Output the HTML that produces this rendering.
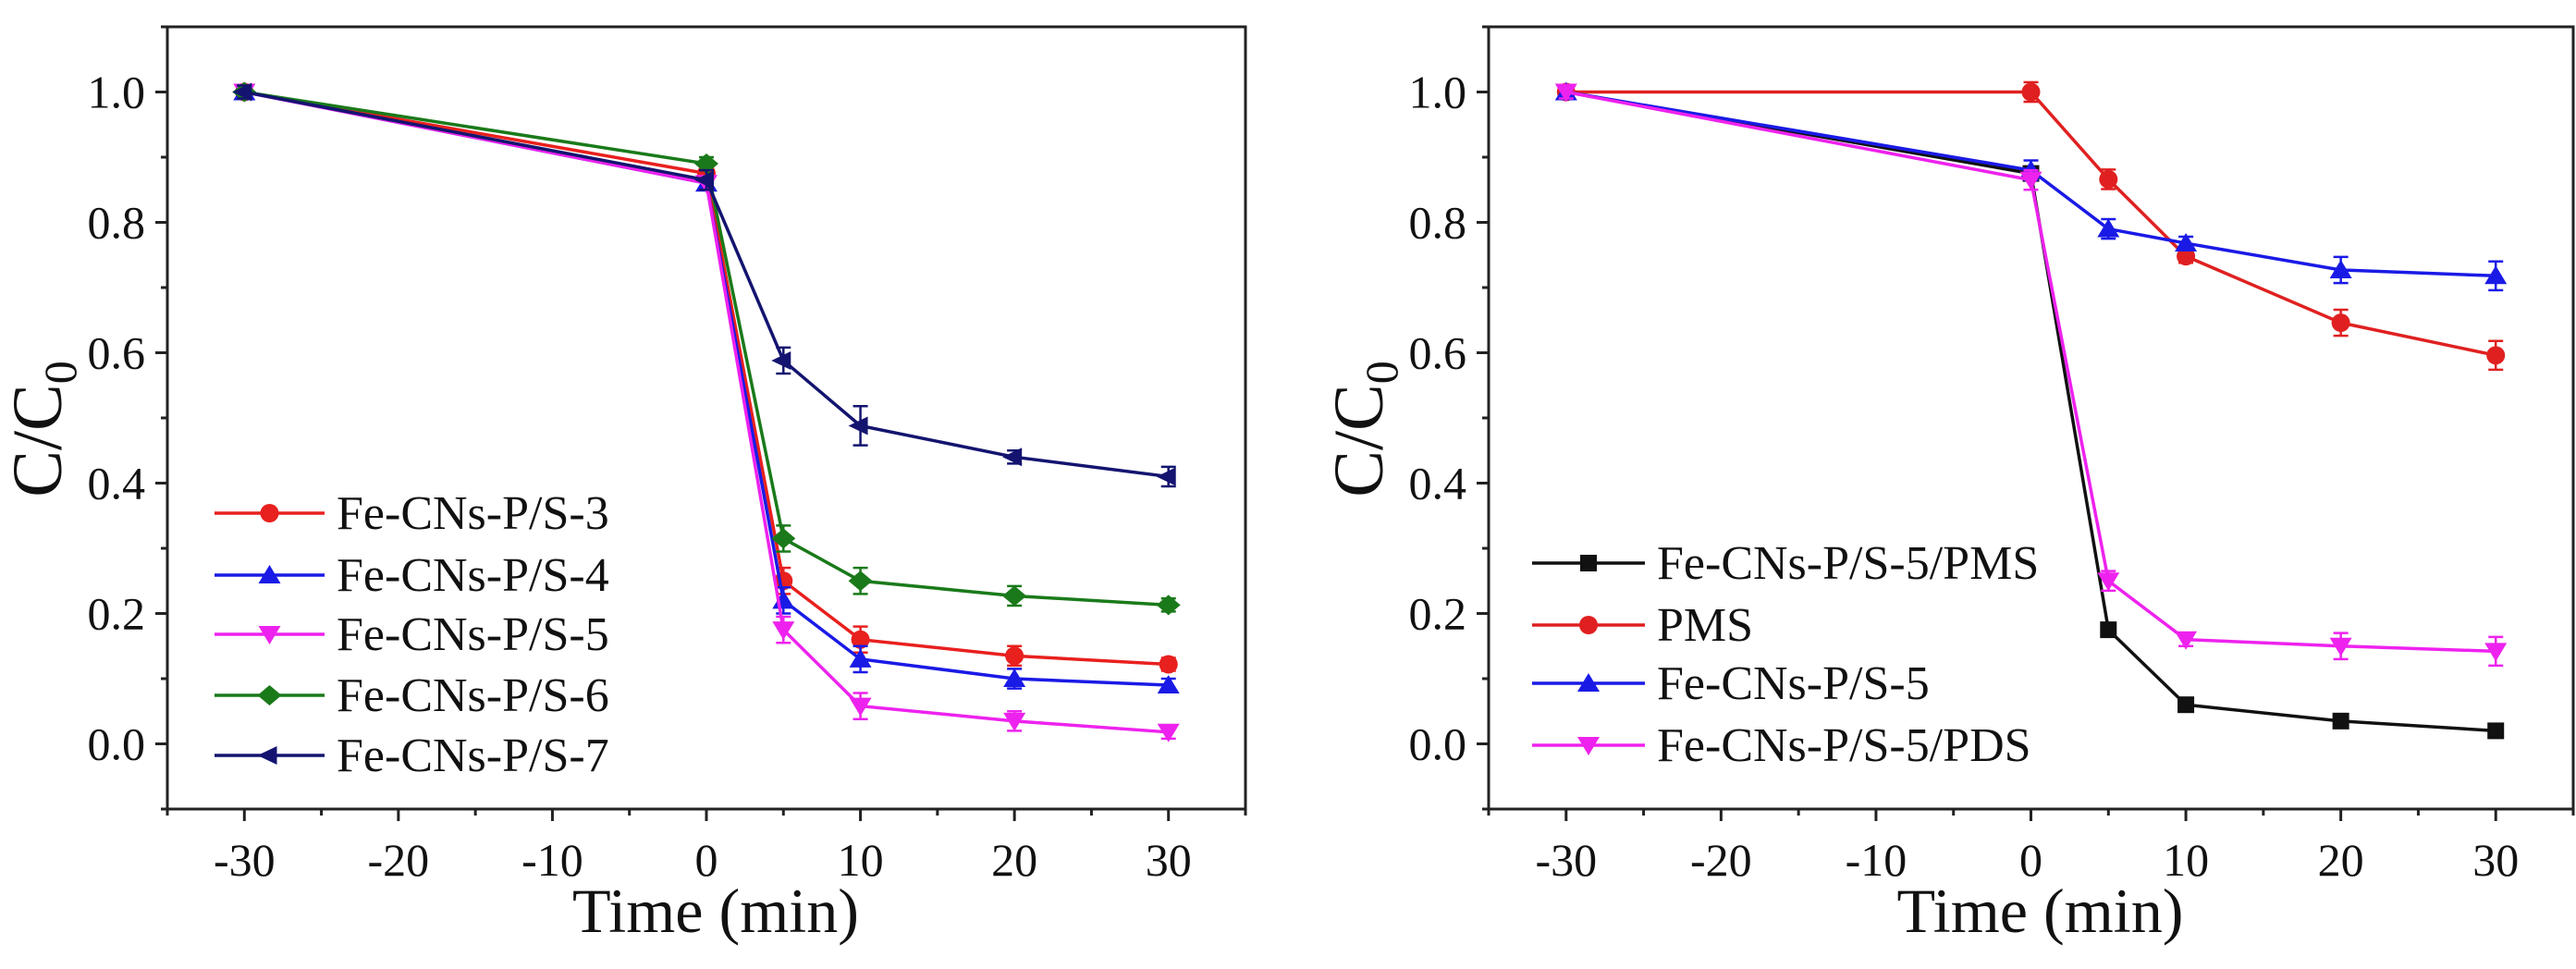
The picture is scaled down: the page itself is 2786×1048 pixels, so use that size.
<!DOCTYPE html>
<html><head><meta charset="utf-8"><style>
html,body{margin:0;padding:0;background:#fff;overflow:hidden;}
svg{display:block;font-family:"Liberation Serif",serif;}
</style></head><body>
<svg id="fig" width="2786" height="1048" viewBox="0 0 2786 1048" xmlns="http://www.w3.org/2000/svg"></svg>
<script>
const xValues = [-30, 0, 5, 10, 20, 30];
const xTicks = [-30, -20, -10, 0, 10, 20, 30];
const yTicks = [0.0, 0.2, 0.4, 0.6, 0.8, 1.0];
const leftNames = ["Fe-CNs-P/S-3","Fe-CNs-P/S-4","Fe-CNs-P/S-5","Fe-CNs-P/S-6","Fe-CNs-P/S-7"];
const leftS3 = [1.0, 0.875, 0.25, 0.16, 0.135, 0.122];
const leftS4 = [1.0, 0.86, 0.22, 0.13, 0.10, 0.09];
const leftS5 = [1.0, 0.86, 0.175, 0.058, 0.035, 0.018];
const leftS6 = [1.0, 0.89, 0.315, 0.25, 0.227, 0.213];
const leftS7 = [1.0, 0.865, 0.588, 0.488, 0.44, 0.41];
const leftErr7 = [0.01, 0.015, 0.02, 0.03, 0.01, 0.015];
const leftErrOther = [0.01, 0.01, 0.02, 0.02, 0.015, 0.01];
const rightNames = ["Fe-CNs-P/S-5/PMS","PMS","Fe-CNs-P/S-5","Fe-CNs-P/S-5/PDS"];
const rightPMScat = [1.0, 0.875, 0.175, 0.06, 0.035, 0.02];
const rightPMS = [1.0, 1.0, 0.866, 0.748, 0.646, 0.596];
const rightS5 = [1.0, 0.88, 0.79, 0.768, 0.727, 0.718];
const rightPDS = [1.0, 0.865, 0.25, 0.16, 0.15, 0.142];
const rightErr = [0.01, 0.015, 0.015, 0.01, 0.02, 0.022];

const NS="http://www.w3.org/2000/svg";
const svg=document.getElementById('fig');
function mk(tag,attrs,parent){const e=document.createElementNS(NS,tag);for(const k in attrs)e.setAttribute(k,attrs[k]);(parent||svg).appendChild(e);return e;}

function marker(g,shape,cx,cy,color){
  const s=10;let m;
  if(shape==='circle')m=mk('circle',{cx:cx,cy:cy,r:s},g);
  else if(shape==='square')m=mk('rect',{x:cx-s+1,y:cy-s+1,width:2*s-2,height:2*s-2},g);
  else if(shape==='up')m=mk('polygon',{points:`${cx},${cy-s-1} ${cx-s-2},${cy+s-1} ${cx+s+2},${cy+s-1}`},g);
  else if(shape==='down')m=mk('polygon',{points:`${cx},${cy+s+1} ${cx-s-2},${cy-s+1} ${cx+s+2},${cy-s+1}`},g);
  else if(shape==='diamond')m=mk('polygon',{points:`${cx},${cy-s-1} ${cx+s+3},${cy} ${cx},${cy+s+1} ${cx-s-3},${cy}`},g);
  else if(shape==='left')m=mk('polygon',{points:`${cx-s-3},${cy} ${cx+s-2},${cy-s} ${cx+s-2},${cy+s}`},g);
  m.setAttribute('fill',color);
  
  
}

function panel(p){
  const {L,R,T,B,id}=p;
  const g=mk('g',{});
  
  
  const xs=v=>L+(v+35)/70*(R-L);
  const ys=v=>B-(v+0.1)/1.2*(B-T);
  const frame=mk('rect',{x:L,y:T,width:R-L,height:B-T,fill:'none',stroke:'#222','stroke-width':3},g);
  
  
  for(let v=-35;v<=35;v+=5){
    const major=xTicks.includes(v);
    mk('line',{x1:xs(v),x2:xs(v),y1:B,y2:B+(major?13:7),stroke:'#222','stroke-width':3},g);
  }
  xTicks.forEach(v=>{
    const t=mk('text',{x:xs(v),y:B+72,'font-size':50,'text-anchor':'middle',fill:'#111'},g);
    t.textContent=String(v);
    
    
  });
  for(let i=-1;i<=11;i++){
    const v=i/10;const major=(i%2===0&&i>=0&&i<=10);
    mk('line',{x1:L,x2:L-(major?13:7),y1:ys(v),y2:ys(v),stroke:'#222','stroke-width':3},g);
  }
  yTicks.forEach(v=>{
    const t=mk('text',{x:L-24,y:ys(v)+17,'font-size':50,'text-anchor':'end',fill:'#111'},g);
    t.textContent=v.toFixed(1);
    
    
  });
  const xt=mk('text',{x:(L+R)/2+10,y:1008,'font-size':68,'text-anchor':'middle',fill:'#111',textLength:310,lengthAdjust:'spacingAndGlyphs'},g);
  xt.textContent='Time (min)';
  
  
  const yt=mk('text',{transform:`translate(${L-115},${(T+B)/2+12}) rotate(-90)`,'font-size':76,'text-anchor':'middle',fill:'#111'},g);
  yt.innerHTML='C/C<tspan font-size="50" dy="16">0</tspan>';
  
  
  p.series.forEach(s=>{
    const sg=mk('g',{},g);
    
    
    const pts=xValues.map((x,i)=>xs(x)+','+ys(s.vals[i])).join(' ');
    mk('polyline',{points:pts,fill:'none',stroke:s.color,'stroke-width':3.5},sg);
    xValues.forEach((x,i)=>{
      const e=s.err[i],cx=xs(x);
      mk('line',{x1:cx,x2:cx,y1:ys(s.vals[i]+e),y2:ys(s.vals[i]-e),stroke:s.color,'stroke-width':2.5},sg);
      mk('line',{x1:cx-8,x2:cx+8,y1:ys(s.vals[i]+e),y2:ys(s.vals[i]+e),stroke:s.color,'stroke-width':2.5},sg);
      mk('line',{x1:cx-8,x2:cx+8,y1:ys(s.vals[i]-e),y2:ys(s.vals[i]-e),stroke:s.color,'stroke-width':2.5},sg);
      marker(sg,s.shape,cx,ys(s.vals[i]),s.color);
    });
  });
  const lg=mk('g',{},g);
  
  
  p.series.forEach((s,i)=>{
    const y=p.legY[i];
    const eg=mk('g',{},lg);
    
    
    mk('line',{x1:p.legX1,x2:p.legX2,y1:y,y2:y,stroke:s.color,'stroke-width':3.5},eg);
    marker(eg,s.shape,(p.legX1+p.legX2)/2,y,s.color);
    const t=mk('text',{x:p.legX2+13,y:y+17,'font-size':52,fill:'#111'},eg);
    t.textContent=s.name;
  });
}

panel({id:'left',L:181,R:1347,T:29,B:875,legX1:232,legX2:351,legY:[555,622,686,752,817],
 series:[
  {name:leftNames[0],vals:leftS3,err:leftErrOther,color:'#e8201e',shape:'circle'},
  {name:leftNames[1],vals:leftS4,err:leftErrOther,color:'#1a1ae6',shape:'up'},
  {name:leftNames[2],vals:leftS5,err:leftErrOther,color:'#ee22ee',shape:'down'},
  {name:leftNames[3],vals:leftS6,err:leftErrOther,color:'#1a7a1a',shape:'diamond'},
  {name:leftNames[4],vals:leftS7,err:leftErr7,color:'#141470',shape:'left'}
 ]});
panel({id:'right',L:1610,R:2783,T:29,B:875,legX1:1657,legX2:1779,legY:[609,676,739,806],
 series:[
  {name:rightNames[0],vals:rightPMScat,err:rightErr.map(()=>0.005),color:'#111',shape:'square'},
  {name:rightNames[1],vals:rightPMS,err:rightErr,color:'#e02020',shape:'circle'},
  {name:rightNames[2],vals:rightS5,err:rightErr,color:'#1a1ae6',shape:'up'},
  {name:rightNames[3],vals:rightPDS,err:rightErr,color:'#ee22ee',shape:'down'}
 ]});
</script>
</body></html>
